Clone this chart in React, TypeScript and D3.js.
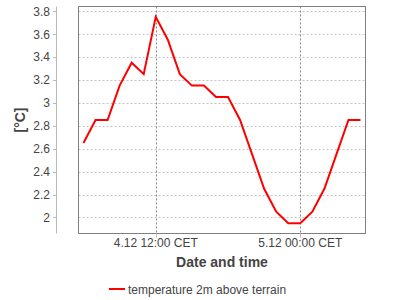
import React from "react";
import * as d3 from "d3";

const hours: string[] = [
  "2012-12-04T06:00", "2012-12-04T07:00", "2012-12-04T08:00", "2012-12-04T09:00",
  "2012-12-04T10:00", "2012-12-04T11:00", "2012-12-04T12:00", "2012-12-04T13:00",
  "2012-12-04T14:00", "2012-12-04T15:00", "2012-12-04T16:00", "2012-12-04T17:00",
  "2012-12-04T18:00", "2012-12-04T19:00", "2012-12-04T20:00", "2012-12-04T21:00",
  "2012-12-04T22:00", "2012-12-04T23:00", "2012-12-05T00:00", "2012-12-05T01:00",
  "2012-12-05T02:00", "2012-12-05T03:00", "2012-12-05T04:00", "2012-12-05T05:00",
];
const temperature: number[] = [
  2.65, 2.85, 2.85, 3.15, 3.35, 3.25, 3.75, 3.55, 3.25, 3.15, 3.15, 3.05,
  3.05, 2.85, 2.55, 2.25, 2.05, 1.95, 1.95, 2.05, 2.25, 2.55, 2.85, 2.85,
];
const yTicks: number[] = [2, 2.2, 2.4, 2.6, 2.8, 3, 3.2, 3.4, 3.6, 3.8];
const xTicks: string[] = ["2012-12-04T12:00", "2012-12-05T00:00"];
const xTickLabels: string[] = ["4.12 12:00 CET", "5.12 00:00 CET"];
const seriesName = "temperature 2m above terrain";
const yLabel = "[°C]";
const xLabel = "Date and time";

const parse = (s: string) => new Date(s);

export default function App() {
  const W = 400, H = 300;
  const left = 78.5, right = 365.5, top = 6.5, bottom = 233.5;
  const dates = hours.map(parse);
  const [d0, d1] = d3.extent(dates) as [Date, Date];
  const span = d1.getTime() - d0.getTime();
  const pad = span * 0.018;
  const x = d3.scaleTime()
    .domain([new Date(d0.getTime() - pad), new Date(d1.getTime() + pad)])
    .range([left, right]);
  const yMin = d3.min(temperature)!, yMax = d3.max(temperature)!;
  const yPad = (yMax - yMin) * 0.05;
  const y = d3.scaleLinear().domain([yMin - yPad, yMax + yPad]).range([bottom, top]);
  const line = d3.line<number>()
    .x((_, i) => x(dates[i]))
    .y((d) => y(d));
  const font = "'Liberation Sans', Arial, sans-serif";
  const textCol = "#444";
  return (
    <svg width={W} height={H} style={{ position: "absolute", left: 0, top: 0 }} fontFamily={font}>
      <rect x={0} y={0} width={W} height={H} fill="#fff" />
      {yTicks.map((t) => (
        <line key={"g" + t} x1={left} x2={right} y1={Math.round(y(t)) + 0.5} y2={Math.round(y(t)) + 0.5}
          stroke="#c4c4c4" strokeDasharray="2,2" />
      ))}
      {xTicks.map((t) => (
        <line key={"v" + t} x1={Math.round(x(parse(t))) + 0.5} x2={Math.round(x(parse(t))) + 0.5} y1={top} y2={bottom}
          stroke="#888" strokeDasharray="2,2" />
      ))}
      <path d={line(temperature) || ""} fill="none" stroke="#ff0000" strokeWidth={2} strokeLinejoin="miter" />
      <rect x={left} y={top} width={right - left} height={bottom - top} fill="none" stroke="#808080" />
      {/* y axis */}
      <line x1={56.5} x2={56.5} y1={top} y2={bottom} stroke="#bbb" />
      {yTicks.map((t) => (
        <g key={"t" + t}>
          <line x1={53} x2={56} y1={Math.round(y(t)) + 0.5} y2={Math.round(y(t)) + 0.5} stroke="#bbb" />
          <text x={50} y={y(t) + 4.5} textAnchor="end" fontSize={12} fill={textCol}>{String(t)}</text>
        </g>
      ))}
      {xTicks.map((t, i) => (
        <g key={"xt" + t}>
          <line x1={Math.round(x(parse(t))) + 0.5} x2={Math.round(x(parse(t))) + 0.5} y1={bottom} y2={bottom + 4} stroke="#bbb" />
          <text x={x(parse(t))} y={247} textAnchor="middle" fontSize={12} fill={textCol}>{xTickLabels[i]}</text>
        </g>
      ))}
      <text x={(left + right) / 2} y={267} textAnchor="middle" fontSize={14} fontWeight="bold" fill={textCol}>{xLabel}</text>
      <text transform={`translate(25,${(top + bottom) / 2}) rotate(-90)`} textAnchor="middle" fontSize={14} fontWeight="bold" fill={textCol}>{yLabel}</text>
      <line x1={109} x2={125} y1={289} y2={289} stroke="#ff0000" strokeWidth={2} />
      <text x={128} y={293.5} fontSize={12} fill={textCol}>{seriesName}</text>
    </svg>
  );
}
